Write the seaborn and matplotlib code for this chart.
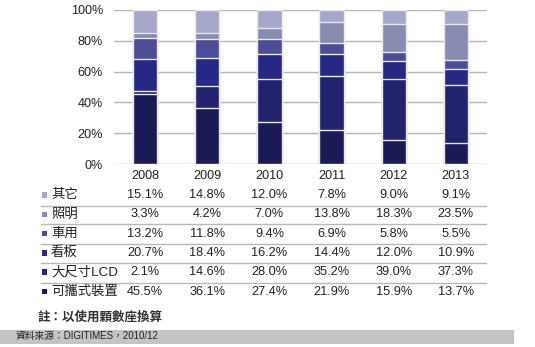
import matplotlib
matplotlib.use("Agg")
import matplotlib.pyplot as plt
import matplotlib.transforms as mtransforms
from matplotlib.patches import Rectangle
import numpy as np
import pandas as pd
import seaborn as sns

years = ["2008", "2009", "2010", "2011", "2012", "2013"]
# bottom -> top stacking order
categories = ["可攜式裝置", "大尺寸LCD", "看板", "車用", "照明", "其它"]
portable = [45.5, 36.1, 27.4, 21.9, 15.9, 13.7]
large_lcd = [2.1, 14.6, 28.0, 35.2, 39.0, 37.3]
signage = [20.7, 18.4, 16.2, 14.4, 12.0, 10.9]
vehicle = [13.2, 11.8, 9.4, 6.9, 5.8, 5.5]
lighting = [3.3, 4.2, 7.0, 13.8, 18.3, 23.5]
others = [15.1, 14.8, 12.0, 7.8, 9.0, 9.1]
series = [portable, large_lcd, signage, vehicle, lighting, others]
colors = ["#1b1a55", "#22226d", "#272784", "#4d4c94", "#8a8bb0", "#a6a8c9"]
y_ticks = [0, 20, 40, 60, 80, 100]
y_tick_labels = ["0%", "20%", "40%", "60%", "80%", "100%"]
note = "註：以使用顆數座換算"
source = "資料來源：DIGITIMES，2010/12"

sns.set_theme(style="white")
plt.rcParams["font.family"] = ["Liberation Sans", "Noto Sans CJK TC", "DejaVu Sans"]

W, H = 535, 347
fig = plt.figure(figsize=(W / 100, H / 100), dpi=100)
ax = fig.add_axes([114 / W, 1 - 164 / H, (487 - 114) / W, (164 - 10) / H])

cum = np.zeros(len(years))
cums = []
for s in series:
    cum = cum + np.array(s)
    cums.append(cum.copy())

# draw from top layer (full height) down to bottom layer
for k in range(len(series) - 1, -1, -1):
    d = pd.DataFrame({"year": years, "val": cums[k]})
    sns.barplot(data=d, x="year", y="val", color=colors[k], width=0.39,
                edgecolor="#e8e8f0", linewidth=1.0, saturation=1, ax=ax, zorder=3)

ax.set_ylim(0, 100)
ax.set_xlim(-0.5, 5.5)
ax.set_yticks(y_ticks)
ax.set_yticklabels(y_tick_labels)
ax.yaxis.grid(True, color="#b5b5b5", linewidth=1.0, zorder=0)
ax.set_axisbelow(True)
for sp in ax.spines.values():
    sp.set_visible(False)
ax.set_xlabel("")
ax.set_ylabel("")
ax.tick_params(axis="y", length=0, pad=8, labelsize=9.1, labelcolor="#222222")
ax.tick_params(axis="x", length=0, pad=4, labelsize=9.1, labelcolor="#222222")

# data table
trans = mtransforms.blended_transform_factory(ax.transData, fig.transFigure)
row_y = [291.7, 272.0, 253.0, 233.7, 214.3, 195.0]  # bottom category first
for k, s in enumerate(series):
    yy = 1 - row_y[k] / H
    for i, v in enumerate(s):
        ax.text(i, yy, f"{v:.1f}%", transform=trans, ha="center", va="center",
                fontsize=9.2, color="#222222", clip_on=False)
    fig.text(51 / W, yy, categories[k], ha="left", va="center", fontsize=9.6,
             color="#222222", family=["Liberation Sans", "Noto Sans CJK TC"])
    fig.patches.append(Rectangle((41.5 / W, yy - 2.6 / H), 5.2 / W, 5.2 / H,
                                 transform=fig.transFigure, facecolor=colors[k],
                                 edgecolor="none"))

for ly in [205.7, 224.3, 244.0, 263.3, 282.7]:
    fig.add_artist(plt.Line2D([41 / W, 486 / W], [1 - ly / H, 1 - ly / H],
                              transform=fig.transFigure, color="#b8b8b8", linewidth=1.0))

fig.text(38 / W, 1 - 317 / H, note, ha="left", va="center", fontsize=9.0,
         fontweight="bold", color="#333333", family=["Noto Sans CJK TC", "DejaVu Sans"])

fig.patches.append(Rectangle((0, 1 - 344 / H), 514 / W, 14.5 / H,
                             transform=fig.transFigure, facecolor="#c4c4c4",
                             edgecolor="none"))
fig.text(16 / W, 1 - 336.5 / H, source, ha="left", va="center", fontsize=7.0,
         color="#222222", family=["Liberation Sans", "Noto Sans CJK TC"])

fig.savefig("out.png", dpi=100, facecolor="white")
